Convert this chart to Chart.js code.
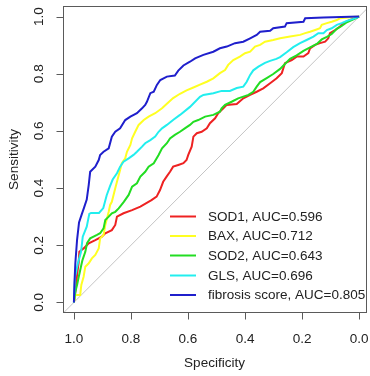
<!DOCTYPE html>
<html>
<head>
<meta charset="utf-8">
<script src="https://cdn.jsdelivr.net/npm/chart.js@4/dist/chart.umd.min.js"></script>
<style>
html,body{margin:0;padding:0;background:#fff;}
canvas{display:block;}
</style>
</head>
<body>
<canvas id="c" width="370" height="376" style="width:370px;height:376px"></canvas>
<script>
// ---- data (specificity, sensitivity) ----
const seriesNames = ["SOD1, AUC=0.596", "BAX, AUC=0.712", "SOD2, AUC=0.643", "GLS, AUC=0.696", "fibrosis score, AUC=0.805"];
const seriesColors = ["#ee2222", "#ffff22", "#22dd22", "#22eeee", "#1f1fcc"];

const sod1Spec = [1,0.993,0.989,0.983,0.981,0.966,0.948,0.925,0.902,0.890,0.867,0.855,0.849,0.826,0.796,0.767,0.728,0.710,0.698,0.687,0.675,0.663,0.652,0.634,0.616,0.605,0.599,0.587,0.581,0.569,0.552,0.534,0.523,0.505,0.494,0.476,0.464,0.429,0.406,0.382,0.359,0.336,0.312,0.289,0.271,0.260,0.236,0.219,0.195,0.178,0.172,0.154,0.137,0.119,0.108,0.102,0.084,0.067,0.055,0.032,0];
const sod1Sens = [0,0.050,0.096,0.142,0.177,0.189,0.207,0.218,0.230,0.242,0.253,0.271,0.300,0.312,0.323,0.335,0.358,0.370,0.393,0.422,0.440,0.457,0.475,0.481,0.487,0.498,0.516,0.545,0.580,0.592,0.597,0.609,0.627,0.644,0.662,0.679,0.691,0.694,0.714,0.726,0.737,0.749,0.767,0.784,0.802,0.837,0.848,0.860,0.860,0.872,0.889,0.901,0.907,0.912,0.924,0.942,0.953,0.965,0.977,0.988,1];

const baxSpec = [1,0.995,0.978,0.974,0.966,0.960,0.948,0.937,0.925,0.913,0.908,0.896,0.890,0.884,0.878,0.873,0.867,0.855,0.849,0.838,0.832,0.820,0.814,0.802,0.796,0.785,0.773,0.755,0.738,0.715,0.691,0.674,0.652,0.628,0.605,0.581,0.558,0.534,0.511,0.488,0.470,0.459,0.441,0.418,0.400,0.382,0.365,0.347,0.330,0.301,0.277,0.242,0.207,0.189,0.172,0.154,0.137,0.131,0.113,0.096,0.078,0.067,0.049,0];
const baxSens = [0,0.026,0.026,0.061,0.090,0.125,0.137,0.154,0.166,0.189,0.224,0.236,0.271,0.294,0.317,0.341,0.352,0.399,0.422,0.463,0.487,0.504,0.527,0.551,0.574,0.597,0.621,0.638,0.650,0.662,0.679,0.695,0.715,0.730,0.742,0.752,0.762,0.772,0.784,0.802,0.813,0.831,0.848,0.860,0.872,0.877,0.895,0.901,0.912,0.918,0.924,0.930,0.936,0.942,0.947,0.953,0.959,0.971,0.977,0.982,0.988,0.994,0.996,1];

const sod2Spec = [1,0.995,0.989,0.983,0.974,0.970,0.960,0.954,0.943,0.919,0.908,0.896,0.890,0.878,0.867,0.855,0.843,0.825,0.808,0.796,0.779,0.767,0.750,0.738,0.720,0.703,0.691,0.674,0.663,0.646,0.628,0.611,0.593,0.581,0.564,0.540,0.511,0.488,0.482,0.470,0.447,0.424,0.406,0.388,0.371,0.359,0.347,0.324,0.301,0.277,0.260,0.242,0.219,0.195,0.172,0.148,0.131,0.113,0.096,0.078,0.061,0.043,0.020,0];
const sod2Sens = [0,0.037,0.061,0.090,0.131,0.148,0.177,0.207,0.224,0.236,0.242,0.259,0.288,0.300,0.312,0.317,0.329,0.352,0.376,0.405,0.417,0.440,0.457,0.475,0.487,0.516,0.539,0.557,0.574,0.586,0.597,0.609,0.621,0.632,0.638,0.650,0.656,0.667,0.679,0.691,0.702,0.714,0.720,0.726,0.737,0.755,0.771,0.785,0.799,0.817,0.834,0.852,0.864,0.880,0.892,0.904,0.920,0.929,0.939,0.957,0.967,0.980,0.990,1];

const glsSpec = [1,0.998,0.996,0.986,0.975,0.969,0.955,0.946,0.940,0.912,0.897,0.885,0.874,0.864,0.849,0.838,0.826,0.808,0.791,0.779,0.761,0.750,0.732,0.715,0.703,0.691,0.674,0.650,0.628,0.593,0.558,0.546,0.511,0.482,0.453,0.429,0.406,0.394,0.382,0.371,0.353,0.330,0.312,0.290,0.277,0.254,0.231,0.207,0.184,0.160,0.143,0.125,0.113,0.096,0.078,0.061,0.043,0.020,0];
const glsSens = [0,0.050,0.090,0.137,0.177,0.230,0.265,0.310,0.313,0.313,0.330,0.375,0.405,0.430,0.452,0.475,0.492,0.504,0.516,0.527,0.545,0.557,0.568,0.580,0.597,0.609,0.621,0.640,0.656,0.684,0.719,0.726,0.732,0.740,0.740,0.750,0.755,0.772,0.796,0.812,0.825,0.838,0.845,0.852,0.858,0.875,0.893,0.907,0.918,0.930,0.942,0.942,0.953,0.959,0.971,0.977,0.985,0.992,1];

const fibSpec = [1,0.998,0.995,0.989,0.982,0.972,0.965,0.955,0.948,0.943,0.925,0.913,0.908,0.896,0.878,0.867,0.855,0.838,0.820,0.802,0.779,0.761,0.750,0.744,0.732,0.720,0.709,0.697,0.674,0.646,0.634,0.616,0.593,0.575,0.546,0.511,0.488,0.464,0.435,0.406,0.382,0.359,0.347,0.312,0.301,0.260,0.254,0.195,0.189,0.125,0];
const fibSens = [0,0.070,0.137,0.218,0.280,0.310,0.330,0.360,0.411,0.457,0.475,0.498,0.516,0.527,0.539,0.580,0.597,0.609,0.638,0.650,0.662,0.679,0.691,0.702,0.732,0.737,0.761,0.778,0.790,0.794,0.811,0.829,0.842,0.854,0.866,0.877,0.889,0.895,0.907,0.912,0.924,0.936,0.947,0.950,0.959,0.965,0.977,0.982,0.994,0.997,1];

const diagSpec = [1.06, -0.06];
const diagSens = [-0.06, 1.06];

const xTickValues = [1.0, 0.8, 0.6, 0.4, 0.2, 0.0];
const xTickLabels = ["1.0", "0.8", "0.6", "0.4", "0.2", "0.0"];
const yTickValues = [0.0, 0.2, 0.4, 0.6, 0.8, 1.0];
const yTickLabels = ["0.0", "0.2", "0.4", "0.6", "0.8", "1.0"];
const xTitle = "Specificity";
const yTitle = "Sensitivity";

// ---- build ----
function pts(sx, sy) { return sx.map((v, i) => ({x: v, y: sy[i]})); }
const curves = [[sod1Spec, sod1Sens], [baxSpec, baxSens], [sod2Spec, sod2Sens], [glsSpec, glsSens], [fibSpec, fibSens]];
const datasets = curves.map((c, i) => ({
  label: seriesNames[i],
  data: pts(c[0], c[1]),
  borderColor: seriesColors[i],
  backgroundColor: seriesColors[i],
  borderWidth: 2,
  showLine: true,
  pointRadius: 0,
  tension: 0,
  fill: false,
  order: 10 - i
}));
datasets.push({
  label: "diag",
  data: pts(diagSpec, diagSens),
  borderColor: "#c4c4c4",
  borderWidth: 1,
  showLine: true,
  pointRadius: 0,
  tension: 0,
  order: 100
});

const FONT = '"Liberation Sans", Arial, Helvetica, sans-serif';
const TEXT = '#222';
const AXC = '#5a5a5a';

const framePlugin = {
  id: 'frame',
  afterDraw(chart) {
    const ctx = chart.ctx, a = chart.chartArea;
    const xs = chart.scales.x, ys = chart.scales.y;
    ctx.save();
    ctx.strokeStyle = AXC;
    ctx.lineWidth = 1;
    const L = Math.round(a.left) + 0.5, R = Math.round(a.right) - 0.5;
    const T = Math.round(a.top) + 0.5, B = Math.round(a.bottom) - 0.5;
    ctx.strokeRect(L, T, R - L, B - T);
    // ticks
    ctx.beginPath();
    xTickValues.forEach(v => {
      const px = Math.round(xs.getPixelForValue(v)) + 0.5;
      ctx.moveTo(px, B); ctx.lineTo(px, B + 7);
    });
    yTickValues.forEach(v => {
      const py = Math.round(ys.getPixelForValue(v)) + 0.5;
      ctx.moveTo(L, py); ctx.lineTo(L - 7, py);
    });
    ctx.stroke();
    // tick labels
    ctx.fillStyle = TEXT;
    ctx.font = '13.5px ' + FONT;
    ctx.textAlign = 'center';
    ctx.textBaseline = 'middle';
    xTickValues.forEach((v, i) => {
      ctx.fillText(xTickLabels[i], xs.getPixelForValue(v), 339);
    });
    yTickValues.forEach((v, i) => {
      ctx.save();
      ctx.translate(39, ys.getPixelForValue(v));
      ctx.rotate(-Math.PI / 2);
      ctx.fillText(yTickLabels[i], 0, 0);
      ctx.restore();
    });
    // titles
    ctx.fillText(xTitle, (a.left + a.right) / 2, 363);
    ctx.save();
    ctx.translate(14.5, (a.top + a.bottom) / 2);
    ctx.rotate(-Math.PI / 2);
    ctx.fillText(yTitle, 0, 0);
    ctx.restore();
    // legend
    const rowY = [216.5, 236, 255.5, 275.5, 295];
    ctx.textAlign = 'left';
    seriesNames.forEach((name, i) => {
      ctx.strokeStyle = seriesColors[i];
      ctx.lineWidth = 2;
      ctx.beginPath();
      ctx.moveTo(170, rowY[i]); ctx.lineTo(196, rowY[i]);
      ctx.stroke();
      ctx.fillStyle = TEXT;
      ctx.fillText(name, 208, rowY[i] + 0.5);
    });
    ctx.restore();
  }
};

new Chart(document.getElementById('c').getContext('2d'), {
  type: 'scatter',
  data: { datasets },
  options: {
    responsive: false,
    animation: false,
    devicePixelRatio: 1,
    layout: { padding: { left: 0, right: 3.5, top: 6, bottom: 0 } },
    plugins: { legend: { display: false }, tooltip: { enabled: false } },
    scales: {
      x: {
        type: 'linear', reverse: true, min: -0.026, max: 1.04,
        ticks: { display: false }, grid: { display: false }, border: { display: false },
        afterBuildTicks(s) { s.ticks = xTickValues.map(v => ({ value: v })); },
        afterFit(s) { s.height = 63; }
      },
      y: {
        type: 'linear', min: -0.037, max: 1.037,
        ticks: { display: false }, grid: { display: false }, border: { display: false },
        afterBuildTicks(s) { s.ticks = yTickValues.map(v => ({ value: v })); },
        afterFit(s) { s.width = 62.5; }
      }
    }
  },
  plugins: [framePlugin]
});
</script>
</body>
</html>
